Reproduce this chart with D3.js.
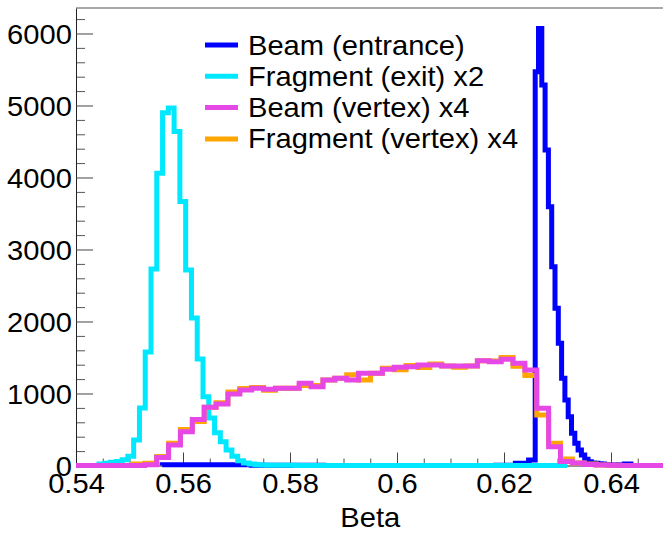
<!DOCTYPE html>
<html lang="en">
<head>
<meta charset="UTF-8">
<title>Beta</title>
<script src="https://d3js.org/d3.v7.min.js"></script>
<style>
    body { margin: 0; background: #fff; }
    svg text { font-family: 'Liberation Sans', Arial, sans-serif; fill: #000; }
</style>
</head>
<body>
<script>
// histogram binning: first bin low edge, bin width, counts
var beamEntStart = 0.55611, beamEntWidth = 0.000617;
var beamEntrance = [
    10, 10, 10, 10, 10, 10, 10, 10, 10, 10, 10, 10, 10, 10, 10, 10, 10, 10, 10, 10,
    10, 10, 10, 10, 10, 10, 10, 3, 3, 3, 3, 3, 3, 3, 3, 3, 3, 3, 3, 3,
    3, 3, 3, 3, 3, 3, 3, 3, 3, 0, 0, 0, 0, 0, 0, 0, 0, 0, 0, 0,
    0, 0, 0, 0, 0, 0, 0, 0, 0, 0, 0, 0, 0, 0, 0, 0, 0, 0, 0, 0,
    0, 0, 0, 0, 0, 0, 0, 0, 0, 0, 0, 0, 0, 0, 0, 0, 0, 0, 0, 0,
    0, 5, 5, 5, 5, 5, 5, 30, 30, 30, 30, 75, 75,
    5470, 6070, 5285, 4382, 3595, 2761, 2183, 1697, 1211, 910,
    678, 447, 308, 215, 146, 86, 53, 35, 30, 25,
    20, 15, 10, 8, 5, 12, 10, 20, 20, 0, 0, 0, 0
];

var fragExitStart = 0.5443, fragExitWidth = 0.00108;
var fragmentExit = [
    20, 30, 45, 55, 80, 130, 355, 800, 1575, 2730,
    4060, 4900, 4965, 4640, 3665, 2715, 2050, 1480, 955, 660,
    455, 330, 215, 130, 67, 35, 20, 12, 8, 5,
    4, 3, 2, 2, 1, 0, 0, 0, 0, 0, 0, 0, 0, 0, 0, 0, 0, 0, 0, 0,
    0, 0, 0, 0, 0, 0, 0, 0, 0, 0, 0, 0, 0, 0, 0, 0, 0, 0, 0, 0,
    0, 0, 0, 0, 0, 0, 0, 0, 0, 0, 0
];

var vertexStart = 0.53954, vertexWidth = 0.00222;
var beamVertex = [
    0, 0, 0, 0, 0, 0, 10, 110, 285, 470,
    640, 808, 854, 993, 1049, 1072, 1058, 1072, 1072, 1141,
    1095, 1187, 1211, 1187, 1280, 1280, 1336, 1364, 1372, 1396,
    1396, 1381, 1381, 1381, 1456, 1441, 1475, 1419, 1326, 794,
    261, 55, 35, 15, 8, 3, 0, 0, 0, 0, 0
];
var fragmentVertex = [
    0, 0, 0, 0, 0, 20, 30, 125, 310, 500,
    610, 810, 870, 1020, 1070, 1085, 1045, 1072, 1072, 1110,
    1110, 1187, 1211, 1260, 1187, 1280, 1350, 1330, 1390, 1360,
    1410, 1381, 1365, 1381, 1456, 1450, 1500, 1380, 1250, 700,
    310, 90, 35, 20, 8, 3, 0, 0, 0, 0, 0
];

var legendNames = ["Beam (entrance)", "Fragment (exit) x2", "Beam (vertex) x4", "Fragment (vertex) x4"];
var legendColors = ["#0000ff", "#00e8ff", "#e648e6", "#ffa500"];

var xMajor = [0.54, 0.56, 0.58, 0.6, 0.62, 0.64];
var xLabels = ["0.54", "0.56", "0.58", "0.6", "0.62", "0.64"];
var yMajor = [0, 1000, 2000, 3000, 4000, 5000, 6000];

var W = 663, H = 536;
var FS = 28, STRETCH = "scale(1.04,1)";

var svg = d3.select("body").append("svg")
    .attr("width", W)
    .attr("height", H)
    .style("background", "#fff");

var x = d3.scaleLinear().domain([0.54, 0.65]).range([76, 664.5]);
var y = d3.scaleLinear().domain([0, 6354]).range([465.5, 8]);

// minor ticks
var xMinor = d3.range(0.545, 0.651, 0.005).filter(function(v) {
    return Math.abs(v / 0.02 - Math.round(v / 0.02)) > 0.01;
});
var yMinor = d3.range(200, 6354, 200).filter(function(v) { return v % 1000 !== 0; });

svg.append("g")
    .attr("transform", "translate(0," + y(0) + ")")
    .call(d3.axisBottom(x).tickValues(xMinor).tickSize(-7).tickSizeOuter(0).tickFormat(""))
    .call(function(g) { g.select(".domain").remove(); g.selectAll("line").attr("stroke", "#555"); });

svg.append("g")
    .attr("transform", "translate(" + x(0.54) + ",0)")
    .call(d3.axisLeft(y).tickValues(yMinor).tickSize(-9).tickSizeOuter(0).tickFormat(""))
    .call(function(g) { g.select(".domain").remove(); g.selectAll("line").attr("stroke", "#555"); });

var xAxis = svg.append("g")
    .attr("transform", "translate(0," + y(0) + ")")
    .call(d3.axisBottom(x).tickValues(xMajor).tickSize(-13).tickSizeOuter(0).tickPadding(8)
        .tickFormat(function(d, i) { return xLabels[i]; }));

var yAxis = svg.append("g")
    .attr("transform", "translate(" + x(0.54) + ",0)")
    .call(d3.axisLeft(y).tickValues(yMajor).tickSize(-17).tickSizeOuter(0).tickPadding(4)
        .tickFormat(d3.format("d")));

[xAxis, yAxis].forEach(function(g) {
    g.attr("font-size", null).attr("font-family", null);
    g.select(".domain").attr("stroke", "#222");
    g.selectAll(".tick line").attr("stroke", "#444");
    g.selectAll("text").attr("font-size", FS).attr("transform", STRETCH);
});
yAxis.selectAll("text").attr("dy", "0.36em");

// top frame line
svg.append("line")
    .attr("x1", x(0.54)).attr("x2", W)
    .attr("y1", y.range()[1]).attr("y2", y.range()[1])
    .attr("stroke", "#555").attr("stroke-width", 1.2);

// axis title
svg.append("text")
    .attr("transform", "translate(" + ((x.range()[0] + x.range()[1]) / 2) + ",527) " + STRETCH)
    .attr("text-anchor", "middle")
    .attr("font-size", FS)
    .text("Beta");

svg.append("clipPath").attr("id", "plotclip")
    .append("rect").attr("x", x(0.54)).attr("y", 0).attr("width", x(0.65) - x(0.54)).attr("height", H);

function stepPoints(start, width, counts) {
    var pts = [[start, 0]];
    counts.forEach(function(c, i) {
        pts.push([start + i * width, c]);
        pts.push([start + (i + 1) * width, c]);
    });
    pts.push([start + counts.length * width, 0]);
    return pts;
}

var line = d3.line()
    .x(function(d) { return x(d[0]); })
    .y(function(d) { return y(d[1]); });

var hists = [
    { pts: stepPoints(beamEntStart, beamEntWidth, beamEntrance), color: legendColors[0] },
    { pts: stepPoints(fragExitStart, fragExitWidth, fragmentExit), color: legendColors[1] },
    { pts: stepPoints(vertexStart, vertexWidth, fragmentVertex), color: legendColors[3] },
    { pts: stepPoints(vertexStart, vertexWidth, beamVertex), color: legendColors[2] }
];

svg.append("g")
    .attr("clip-path", "url(#plotclip)")
    .selectAll("path")
    .data(hists)
    .enter().append("path")
    .attr("d", function(d) { return line(d.pts); })
    .attr("fill", "none")
    .attr("stroke", function(d) { return d.color; })
    .attr("stroke-width", 5)
    .attr("stroke-linejoin", "miter");

// legend
var legend = svg.append("g");
legendNames.forEach(function(name, i) {
    var ly = 45 + i * 31.3;
    legend.append("line")
        .attr("x1", 205).attr("x2", 238)
        .attr("y1", ly).attr("y2", ly)
        .attr("stroke", legendColors[i])
        .attr("stroke-width", 5);
    legend.append("text")
        .attr("transform", "translate(248," + (ly + 9.5) + ") " + STRETCH)
        .attr("font-size", FS)
        .text(name);
});
</script>
</body>
</html>
